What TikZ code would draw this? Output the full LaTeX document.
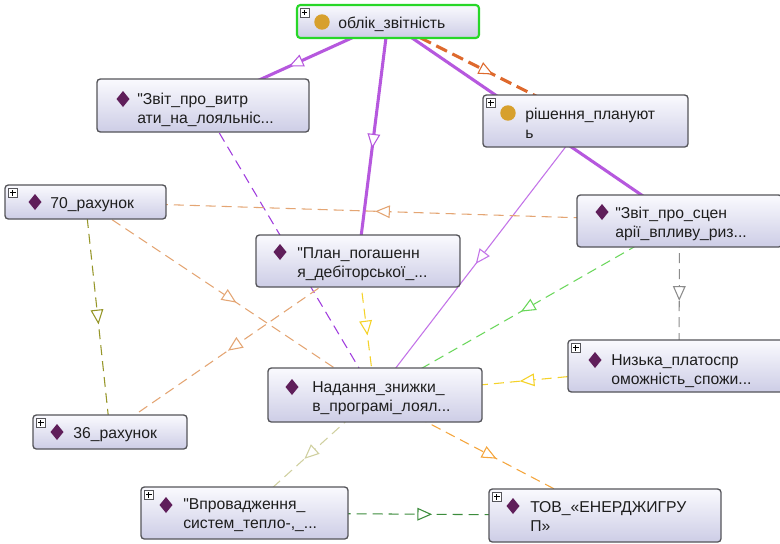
\documentclass[tikz,border=0pt]{standalone}
\usepackage{fontspec}
\setmainfont{Liberation Sans}[Ligatures=TeXOff]
\usetikzlibrary{arrows.meta,decorations.markings,calc}
\pgfdeclarelayer{bgfill}
\pgfdeclarelayer{edges}
\pgfsetlayers{bgfill,edges,main}
\definecolor{boxline}{RGB}{85,85,90}
\definecolor{boxtop}{RGB}{250,250,254}
\definecolor{boxbot}{RGB}{205,205,230}
\definecolor{selgreen}{RGB}{40,215,40}
\definecolor{diacol}{RGB}{95,30,90}
\definecolor{goldc}{RGB}{215,160,45}
\definecolor{txtc}{RGB}{30,30,30}
\definecolor{cpurple}{RGB}{182,88,222}
\definecolor{cpurplethin}{RGB}{195,115,232}
\definecolor{cpurpledash}{RGB}{160,60,222}
\definecolor{corangethick}{RGB}{222,105,45}
\definecolor{cyellow}{RGB}{245,210,40}
\definecolor{colive}{RGB}{150,150,40}
\definecolor{ctan}{RGB}{228,165,115}
\definecolor{cgray}{RGB}{140,140,140}
\definecolor{cgreen}{RGB}{105,215,90}
\definecolor{ckhaki}{RGB}{208,208,160}
\definecolor{corange}{RGB}{245,165,60}
\definecolor{cdkgreen}{RGB}{60,140,60}
\tikzset{
  x=0.75pt, y=-0.75pt,
  box/.style={draw=boxline, line width=1pt, rounded corners=2.5pt, top color=boxtop, bottom color=boxbot, inner sep=0pt},
  obox/.style 2 args={box, minimum width=#1*0.75pt, minimum height=#2*0.75pt},
  lbl/.style={anchor=base west, inner sep=0pt, text=txtc, font=\fontsize{11.8pt}{14pt}\selectfont},
  plusic/.pic={\draw[fill=white, draw=boxline, line width=0.5pt] (0,0) rectangle (9,9);
               \draw[line width=0.8pt, black] (1.8,4.5)--(7.2,4.5) (4.5,1.8)--(4.5,7.2);},
  dia/.pic={\fill[diacol] (0,-8) -- (6.5,0) -- (0,8) -- (-6.5,0) -- cycle;},
  circ/.pic={\fill[goldc] (0,0) circle (5.8pt);},
  midarr/.style={postaction={decorate}, decoration={markings, mark=at position 0.5 with {\arrow[xshift=5.5pt]{Triangle[fill=white, length=11pt, width=9.5pt, line width=0.8pt]}}}},
  dsh/.style={dash pattern=on 7.5pt off 4.5pt},
  thickp/.style={draw=cpurple, line width=2.3pt},
}
\begin{document}
\begin{tikzpicture}
\clip (0,0) rectangle (780,543);
\begin{pgfonlayer}{bgfill}
\fill[white] (0,0) rectangle (780,543);
\end{pgfonlayer}

% nodes
\node[obox={182}{33}, draw=selgreen, line width=1.6pt] (obl) at (388,21.5) {};
\pic at ($(obl.north west)+(4,4)$) {plusic};
\pic at (322,22) {circ};
\node[lbl] (oblt) at (338,28) {облік\_звітність};

\node[obox={212}{53}] (zvit1) at (203,105.5) {};
\pic at (123,99) {dia};
\node[lbl] (zvit1a) at (137,104) {"Звіт\_про\_витр};
\node[lbl] (zvit1b) at (137,123) {ати\_на\_лояльніс...};

\node[obox={205}{52}] (rish) at (585.5,121) {};
\pic at ($(rish.north west)+(4,4)$) {plusic};
\pic at (508,113) {circ};
\node[lbl] (risha) at (525,119) {рішення\_плануют};
\node[lbl] (rishb) at (525,138) {ь};

\node[obox={161}{34}] (r70) at (85.5,202) {};
\pic at ($(r70.north west)+(4,4)$) {plusic};
\pic at (35,202) {dia};
\node[lbl] (r70t) at (50,208) {70\_рахунок};

\node[obox={204}{52}] (plan) at (358,261) {};
\pic at (280,252) {dia};
\node[lbl] (plana) at (297,258) {"План\_погашенн};
\node[lbl] (planb) at (297,277) {я\_дебіторської\_...};

\node[obox={205}{52}] (zvit2) at (679.5,221) {};
\pic at (602,212) {dia};
\node[lbl] (zvit2a) at (615,218) {"Звіт\_про\_сцен};
\node[lbl] (zvit2b) at (615,237) {арії\_впливу\_риз...};

\node[obox={214}{54}] (nad) at (375,395) {};
\pic at (292,387) {dia};
\node[lbl] (nada) at (312,392) {Надання\_знижки\_};
\node[lbl] (nadb) at (312,411) {в\_програмі\_лоял...};

\node[obox={222}{52}] (nyz) at (679,366) {};
\pic at ($(nyz.north west)+(4,4)$) {plusic};
\pic at (595,360) {dia};
\node[lbl] (nyza) at (611,365) {Низька\_платоспр};
\node[lbl] (nyzb) at (611,384) {оможність\_спожи...};

\node[obox={154}{34}] (r36) at (110,432) {};
\pic at ($(r36.north west)+(4,4)$) {plusic};
\pic at (57,432) {dia};
\node[lbl] (r36t) at (73,438) {36\_рахунок};

\node[obox={207}{52}] (vpr) at (244.5,513) {};
\pic at ($(vpr.north west)+(4,4)$) {plusic};
\pic at (166,505) {dia};
\node[lbl] (vpra) at (183,509) {"Впровадження\_};
\node[lbl] (vprb) at (183,528) {систем\_тепло-,\_...};

\node[obox={232}{53}] (tov) at (605,515.5) {};
\pic at ($(tov.north west)+(4,4)$) {plusic};
\pic at (513,506) {dia};
\node[lbl] (tova) at (530,512) {ТОВ\_«ЕНЕРДЖИГРУ};
\node[lbl] (tovb) at (530,531) {П»};

% edges
\begin{pgfonlayer}{edges}
\draw[thickp, midarr] (obl.center) -- (zvit1.center);
\draw[thickp, midarr] (obl.center) -- (plan.center);
\draw[thickp, midarr] (obl.center) -- (zvit2.center);
\draw[draw=corangethick, line width=2.3pt, dash pattern=on 9pt off 4.5pt, midarr] (obl.center) -- (rish.center);
\draw[draw=cpurplethin, line width=0.8pt, midarr] (rish.center) -- (nad.center);
\draw[draw=cpurpledash, line width=0.8pt, dsh, midarr] (zvit1.center) -- (nad.center);
\draw[draw=cyellow, line width=0.8pt, dsh, midarr] (plan.center) -- (nad.center);
\draw[draw=colive, line width=0.8pt, dsh, midarr] (r70.center) -- (r36.center);
\draw[draw=ctan, line width=0.8pt, dsh, midarr] (zvit2.center) -- (r70.center);
\draw[draw=ctan, line width=0.8pt, dsh, midarr] (r70.center) -- (nad.center);
\draw[draw=ctan, line width=0.8pt, dsh, midarr] (plan.center) -- (r36.center);
\draw[draw=cgray, line width=0.8pt, dsh, midarr] (zvit2.center) -- (nyz.center);
\draw[draw=cgreen, line width=0.8pt, dsh, midarr] (zvit2.center) -- (nad.center);
\draw[draw=cyellow, line width=0.8pt, dsh, midarr] (nyz.center) -- (nad.center);
\draw[draw=ckhaki, line width=0.8pt, dsh, midarr] (nad.center) -- (vpr.center);
\draw[draw=corange, line width=0.8pt, dsh, midarr] (nad.center) -- (tov.center);
\draw[draw=cdkgreen, line width=0.8pt, dsh, midarr] (vpr.center) -- (tov.center);
\end{pgfonlayer}
\end{tikzpicture}
\end{document}
